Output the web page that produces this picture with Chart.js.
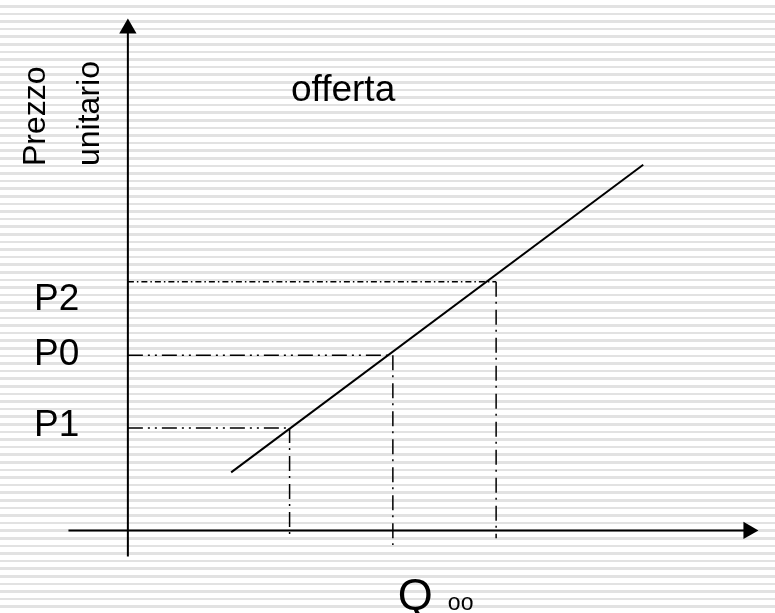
<!DOCTYPE html>
<html>
<head>
<meta charset="utf-8">
<script src="https://cdn.jsdelivr.net/npm/chart.js@4"></script>
<style>
  html, body { margin: 0; padding: 0; }
  body {
    width: 775px; height: 613px; overflow: hidden;
    background: repeating-linear-gradient(to bottom, #ffffff 0px, #ffffff 5px, #e2e2e2 5px, #e2e2e2 7.6px);
  }
  #wrap { width: 775px; height: 613px; }
</style>
</head>
<body>
<div id="wrap"><canvas id="c" width="775" height="613"></canvas></div>
<script>
// price levels and quantities (origin = axes crossing)
const priceLabels = ['P1', 'P0', 'P2'];
const priceLevels = [10.6, 18.1, 25.7];
const quantityLevels = [16.6, 27.2, 37.8];
const dropEnds = [-0.8, -1.5, -0.8];

// supply curve ("offerta")
const supplyQ = [10.6, 52.9];
const supplyP = [6.0, 37.8];

// axis extents
const qAxis = [-6.1, 64.7];
const pAxis = [-2.7, 52.9];

const font = '"Liberation Sans", Arial, sans-serif';

const line = (pts, extra) => Object.assign({
  type: 'line',
  data: pts,
  showLine: true,
  borderColor: '#000',
  backgroundColor: '#000',
  borderWidth: 1.5,
  pointRadius: 0,
  fill: false,
  tension: 0,
  clip: false
}, extra || {});

const datasets = [];

// dashed guides
priceLevels.forEach((p, i) => {
  datasets.push(line([{x: 0, y: p}, {x: quantityLevels[i], y: p}], {
    borderDash: i === 2 ? [6, 3, 1.5, 3] : [15, 5, 2, 5, 2, 5]
  }));
  datasets.push(line([{x: quantityLevels[i], y: p}, {x: quantityLevels[i], y: dropEnds[i]}], {
    borderDash: [15, 5, 2, 6]
  }));
});

// supply line
datasets.push(line(supplyQ.map((q, i) => ({x: q, y: supplyP[i]})), {borderWidth: 2}));

// axes
datasets.push(line([{x: qAxis[0], y: 0}, {x: qAxis[1] - 1, y: 0}], {borderWidth: 2}));
datasets.push(line([{x: 0, y: pAxis[0]}, {x: 0, y: pAxis[1] - 1}], {borderWidth: 2}));

// arrow heads
datasets.push(line([{x: qAxis[1] - 1, y: 0}], {
  showLine: false, pointStyle: 'triangle', pointRadius: 10, pointRotation: 90, borderWidth: 0
}));
datasets.push(line([{x: 0, y: pAxis[1] - 1}], {
  showLine: false, pointStyle: 'triangle', pointRadius: 10, pointRotation: 0, borderWidth: 0
}));

const textPlugin = {
  id: 'texts',
  afterDatasetsDraw(chart) {
    const {ctx, scales: {x, y}} = chart;
    ctx.save();
    ctx.fillStyle = '#000';

    // price labels
    const shift = [-2, -1, 18];
    ctx.font = '37px ' + font;
    ctx.textAlign = 'left';
    ctx.textBaseline = 'middle';
    priceLabels.forEach((t, i) => {
      ctx.fillText(t, 34, y.getPixelForValue(priceLevels[i]) + shift[i]);
    });

    // quantity label
    ctx.textBaseline = 'alphabetic';
    const qx = x.getPixelForValue(quantityLevels[1]);
    ctx.font = '45px ' + font;
    ctx.fillText('Q', qx + 5, 610);
    ctx.font = '23px ' + font;
    ctx.fillText('oo', qx + 55, 610);

    // curve name
    ctx.font = '37px ' + font;
    ctx.fillText('offerta', 291, 101);

    // y axis title
    ctx.font = '32px ' + font;
    ctx.translate(45, 166);
    ctx.rotate(-Math.PI / 2);
    ctx.fillText('Prezzo', 0, 0);
    ctx.fillText('unitario', 0, 54);
    ctx.restore();
  }
};

new Chart(document.getElementById('c').getContext('2d'), {
  type: 'scatter',
  data: {datasets},
  options: {
    responsive: false,
    animation: false,
    events: [],
    layout: {padding: 0},
    plugins: {legend: {display: false}, tooltip: {enabled: false}},
    scales: {
      x: {type: 'linear', min: -12.1, max: 65.4, display: false},
      y: {type: 'linear', min: -7.5, max: 53.8, display: false}
    }
  },
  plugins: [textPlugin]
});
</script>
</body>
</html>
